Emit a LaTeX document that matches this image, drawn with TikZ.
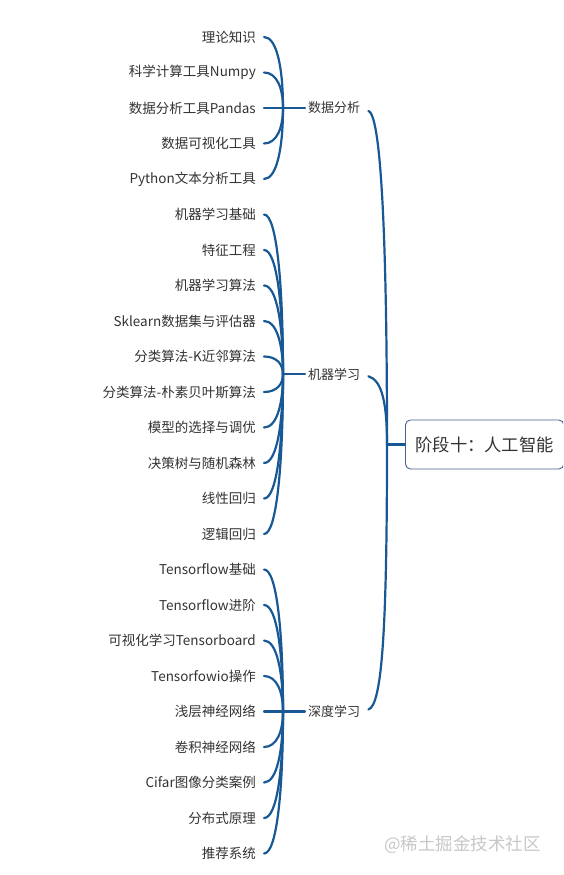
\documentclass[tikz,border=0pt]{standalone}
\usepackage{fontspec}
\setmainfont{Noto Sans CJK SC}
\newfontfamily\cjk{Noto Sans CJK SC}
\definecolor{linec}{RGB}{24,88,148}
\definecolor{boxc}{RGB}{70,100,135}
\definecolor{txt}{RGB}{51,51,51}
\definecolor{wm}{RGB}{200,200,200}
\begin{document}
\begin{tikzpicture}[x=1pt,y=-1pt,
  leaf/.style={anchor=east,inner ysep=3pt,inner xsep=8pt,text=txt,font=\cjk\fontsize{13.5}{15}\selectfont},
  grp/.style={anchor=west,inner sep=3pt,text=txt,font=\cjk\fontsize{13}{15}\selectfont},
  rootbox/.style={anchor=west,draw=boxc,line width=0.9pt,rounded corners=5pt,minimum height=49pt,
    text=txt,inner xsep=10pt,font=\cjk\fontsize{17.3}{20}\selectfont},
  conn/.style={draw=linec,line width=2.2pt,line cap=round}]
\useasboundingbox (0,0) rectangle (563,875);
\clip (0,0) rectangle (563,875);
\fill[white] (0,0) rectangle (563,875);

% root
\node[rootbox] (root) at (405,444.5) {阶段十：人工智能\hspace{4pt}};
\coordinate (rj) at (387,444.5);

% groups
\node[grp] (g1) at (305,108) {数据分析};
\node[grp] (g2) at (305,374.25) {机器学习};
\node[grp] (g3) at (305,711.5) {深度学习};
\coordinate (b1) at (283,108);
\coordinate (b2) at (283,374.25);
\coordinate (b3) at (283,711.5);

% leaves
\foreach \i/\t in {1/理论知识,2/科学计算工具Numpy,3/数据分析工具Pandas,4/数据可视化工具,5/Python文本分析工具,
  6/机器学习基础,7/特征工程,8/机器学习算法,9/Sklearn数据集与评估器,10/分类算法-K近邻算法,
  11/分类算法-朴素贝叶斯算法,12/模型的选择与调优,13/决策树与随机森林,14/线性回归,15/逻辑回归,
  16/Tensorflow基础,17/Tensorflow进阶,18/可视化学习Tensorboard,19/Tensorfowio操作,20/浅层神经网络,
  21/卷积神经网络,22/Cifar图像分类案例,23/分布式原理,24/推荐系统}{
  \pgfmathsetmacro{\yy}{37+35.5*(\i-1)}
  \node[leaf] (l\i) at (264,\yy) {\t};
}

% leaf connectors
\foreach \i in {1,2,4,5}{
  \pgfmathsetmacro{\dy}{0.55*(37+35.5*(\i-1)-108)}
  \draw[conn] (l\i.east) .. controls +(13,0) and +(0,\dy) .. (b1);
}
\draw[conn] (l3.east) -- (g1.west);
\foreach \i in {6,...,15}{
  \pgfmathsetmacro{\dy}{0.55*(37+35.5*(\i-1)-374.25)}
  \draw[conn] (l\i.east) .. controls +(13,0) and +(0,\dy) .. (b2);
}
\draw[conn] (b2) -- (g2.west);
\foreach \i in {16,...,19,21,22,23,24}{
  \pgfmathsetmacro{\dy}{0.55*(37+35.5*(\i-1)-711.5)}
  \draw[conn] (l\i.east) .. controls +(13,0) and +(0,\dy) .. (b3);
}
\draw[conn] (l20.east) -- (g3.west);

% group to root
\draw[conn] ([xshift=5pt,yshift=-3pt]g1.east) .. controls +(14,4) and +(0,-180) .. (rj);
\draw[conn] ([xshift=5pt,yshift=-2pt]g2.east) .. controls +(14,4) and +(0,-40) .. (rj);
\draw[conn] ([xshift=5pt,yshift=2pt]g3.east) .. controls +(14,-4) and +(0,180) .. (rj);
\draw[conn] (rj) -- (root.west);

% watermark
\node[anchor=west,text=wm,inner sep=0pt,font=\cjk\fontsize{17.5}{19}\selectfont] (wmk) at (384,845) {@稀土掘金技术社区};
\end{tikzpicture}
\end{document}
